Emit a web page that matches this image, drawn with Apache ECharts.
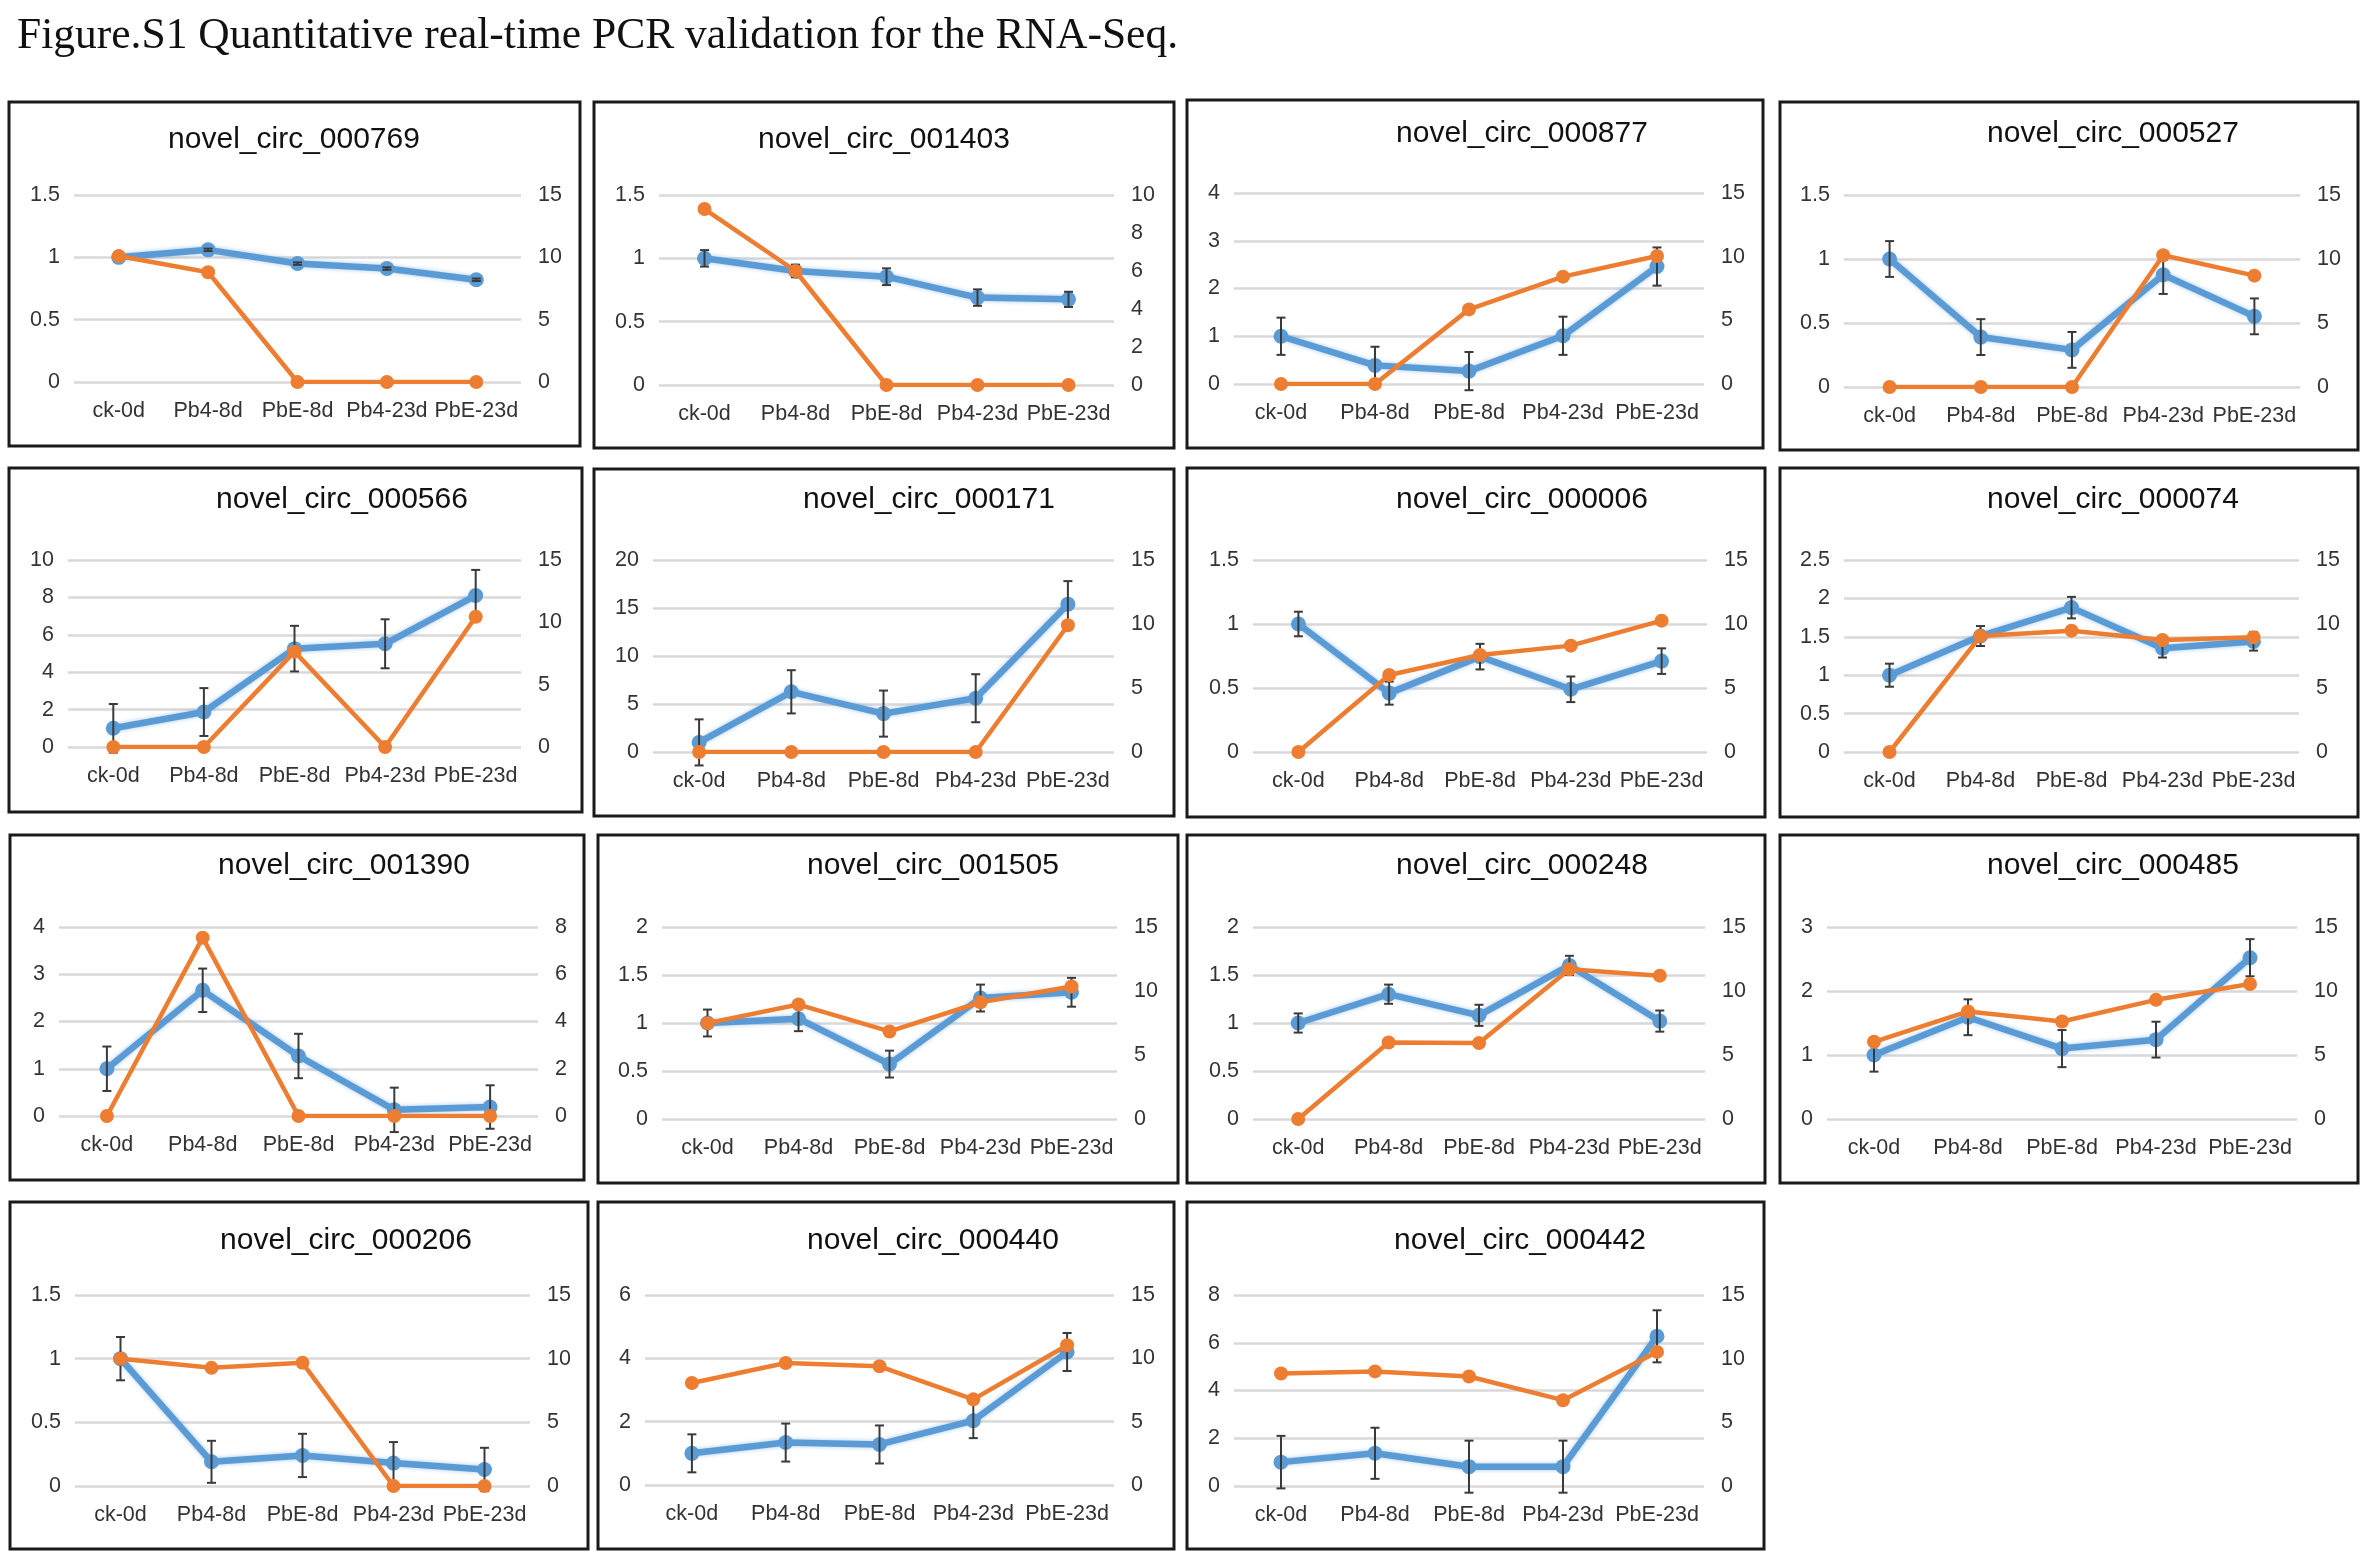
<!DOCTYPE html>
<html>
<head>
<meta charset="utf-8">
<script src="https://cdn.jsdelivr.net/npm/echarts@6/dist/echarts.min.js"></script>
<style>
html,body{margin:0;padding:0;background:#fff;}
#chart{width:2362px;height:1551px;}
</style>
</head>
<body>
<div id="chart"></div>
<script>
// ---------------- DATA ----------------
const categories = ['ck-0d', 'Pb4-8d', 'PbE-8d', 'Pb4-23d', 'PbE-23d'];
const figureTitle = 'Figure.S1 Quantitative real-time PCR validation for the RNA-Seq.';

// qPCR (blue, left axis), its error bars, and RNA-Seq (orange, right axis)
const qpcr_000769 = [1.00, 1.06, 0.95, 0.91, 0.82];
const err_000769  = [0.01, 0.01, 0.01, 0.01, 0.01];
const rna_000769  = [10.1, 8.8, 0, 0, 0];

const qpcr_001403 = [1.00, 0.90, 0.855, 0.69, 0.676];
const err_001403  = [0.065, 0.05, 0.066, 0.065, 0.06];
const rna_001403  = [9.26, 6.0, 0, 0, 0];

const qpcr_000877 = [1.00, 0.39, 0.27, 1.01, 2.46];
const err_000877  = [0.39, 0.39, 0.40, 0.40, 0.40];
const rna_000877  = [0, 0, 5.86, 8.43, 10.05];

const qpcr_000527 = [1.00, 0.39, 0.29, 0.877, 0.552];
const err_000527  = [0.14, 0.14, 0.14, 0.15, 0.14];
const rna_000527  = [0, 0, 0, 10.29, 8.7];

const qpcr_000566 = [1.00, 1.87, 5.26, 5.52, 8.1];
const err_000566  = [1.30, 1.28, 1.22, 1.31, 1.37];
const rna_000566  = [0, 0, 7.65, 0, 10.45];

const qpcr_000171 = [1.00, 6.27, 4.0, 5.6, 15.4];
const err_000171  = [2.4, 2.25, 2.4, 2.5, 2.4];
const rna_000171  = [0, 0, 0, 0, 9.9];

const qpcr_000006 = [1.00, 0.46, 0.745, 0.49, 0.71];
const err_000006  = [0.096, 0.09, 0.10, 0.10, 0.10];
const rna_000006  = [0, 6.02, 7.58, 8.31, 10.26];

const qpcr_000074 = [1.00, 1.51, 1.88, 1.35, 1.44];
const err_000074  = [0.15, 0.13, 0.14, 0.12, 0.12];
const rna_000074  = [0, 9.06, 9.48, 8.75, 8.96];

const qpcr_001390 = [1.00, 2.66, 1.27, 0.13, 0.19];
const err_001390  = [0.47, 0.46, 0.47, 0.47, 0.46];
const rna_001390  = [0, 7.55, 0, 0, 0];

const qpcr_001505 = [1.00, 1.045, 0.572, 1.26, 1.32];
const err_001505  = [0.14, 0.13, 0.14, 0.14, 0.15];
const rna_001505  = [7.49, 8.94, 6.84, 9.12, 10.35];

const qpcr_000248 = [1.00, 1.30, 1.08, 1.60, 1.02];
const err_000248  = [0.10, 0.10, 0.11, 0.10, 0.11];
const rna_000248  = [0, 5.98, 5.93, 11.7, 11.2];

const qpcr_000485 = [1.00, 1.59, 1.10, 1.24, 2.52];
const err_000485  = [0.26, 0.28, 0.29, 0.28, 0.29];
const rna_000485  = [6.03, 8.4, 7.62, 9.31, 10.55];

const qpcr_000206 = [1.00, 0.19, 0.24, 0.18, 0.13];
const err_000206  = [0.17, 0.165, 0.17, 0.165, 0.17];
const rna_000206  = [10.0, 9.28, 9.67, 0, 0];

const qpcr_000440 = [1.00, 1.34, 1.28, 2.03, 4.2];
const err_000440  = [0.60, 0.60, 0.60, 0.55, 0.60];
const rna_000440  = [8.05, 9.63, 9.37, 6.76, 11.03];

const qpcr_000442 = [1.00, 1.37, 0.81, 0.81, 6.27];
const err_000442  = [1.10, 1.07, 1.09, 1.09, 1.09];
const rna_000442  = [8.83, 9.0, 8.6, 6.74, 10.53];

const panelNames = ['novel_circ_000769','novel_circ_001403','novel_circ_000877','novel_circ_000527',
  'novel_circ_000566','novel_circ_000171','novel_circ_000006','novel_circ_000074',
  'novel_circ_001390','novel_circ_001505','novel_circ_000248','novel_circ_000485',
  'novel_circ_000206','novel_circ_000440','novel_circ_000442'];
const qpcrSeries = [qpcr_000769, qpcr_001403, qpcr_000877, qpcr_000527, qpcr_000566, qpcr_000171, qpcr_000006, qpcr_000074,
  qpcr_001390, qpcr_001505, qpcr_000248, qpcr_000485, qpcr_000206, qpcr_000440, qpcr_000442];
const errSeries = [err_000769, err_001403, err_000877, err_000527, err_000566, err_000171, err_000006, err_000074,
  err_001390, err_001505, err_000248, err_000485, err_000206, err_000440, err_000442];
const rnaSeries = [rna_000769, rna_001403, rna_000877, rna_000527, rna_000566, rna_000171, rna_000006, rna_000074,
  rna_001390, rna_001505, rna_000248, rna_000485, rna_000206, rna_000440, rna_000442];

// axis ticks
const leftMax      = [1.5, 1.5, 4, 1.5, 10, 20, 1.5, 2.5, 4, 2, 2, 3, 1.5, 6, 8];
const leftInterval = [0.5, 0.5, 1, 0.5, 2, 5, 0.5, 0.5, 1, 0.5, 0.5, 1, 0.5, 2, 2];
const rightMax      = [15, 10, 15, 15, 15, 15, 15, 15, 8, 15, 15, 15, 15, 15, 15];
const rightInterval = [5, 2, 5, 5, 5, 5, 5, 5, 2, 5, 5, 5, 5, 5, 5];

// ---------------- LAYOUT ----------------
// panel frames [x0, y0, x1, y1]
const frames = [
  [9,102,580,446],[594,102,1174,448],[1187,100,1763,448],[1780,102,2358,450],
  [9,468,582,812],[594,469,1174,816],[1187,468,1765,817],[1780,468,2358,817],
  [10,835,584,1180],[598,835,1178,1183],[1187,835,1765,1183],[1780,835,2358,1183],
  [10,1202,588,1549],[598,1202,1174,1549],[1187,1202,1764,1549]
];
// plot areas [x0, y0, x1, y1]
const plots = [
  [74,195,521,382],[659,195,1114,385],[1234,193,1704,384],[1844,195,2300,387],
  [68,560,521,747],[653,560,1114,752],[1253,560,1707,752],[1844,560,2299,752],
  [59,927,538,1116],[662,927,1117,1119],[1253,927,1705,1119],[1827,927,2297,1119],
  [75,1295,530,1486],[645,1295,1114,1485],[1234,1295,1704,1486]
];
// panel title centres [x, y]
const titlePos = [
  [294,142],[884,142],[1522,136],[2113,136],
  [342,502],[929,502],[1522,502],[2113,502],
  [344,868],[933,868],[1522,868],[2113,868],
  [346,1243],[933,1243],[1520,1243]
];

const BLUE = '#5B9BD5', ORANGE = '#ED7D31';
const LABEL_FONT = 'Liberation Sans';
const LABEL_COLOR = '#333333';

const grids = [], xAxes = [], yAxes = [], series = [], titles = [], graphics = [];

graphics.push({
  type: 'text', left: 17, top: 15, z: 100,
  style: { text: figureTitle, font: '43.5px "Liberation Serif", "Times New Roman", serif', fill: '#111' }
});

for (let i = 0; i < 15; i++) {
  const p = plots[i], f = frames[i];
  grids.push({ left: p[0], top: p[1], width: p[2] - p[0], height: p[3] - p[1], containLabel: false });
  graphics.push({
    type: 'rect', z: 0, silent: true,
    shape: { x: f[0], y: f[1], width: f[2] - f[0], height: f[3] - f[1] },
    style: { fill: 'none', stroke: '#1a1a1a', lineWidth: 3 }
  });
  titles.push({
    text: panelNames[i], left: titlePos[i][0], top: titlePos[i][1] - 17, textAlign: 'center', padding: 0,
    textStyle: { fontFamily: LABEL_FONT, fontSize: 30, fontWeight: 'normal', color: '#111' }
  });
  xAxes.push({
    gridIndex: i, type: 'category', data: categories, boundaryGap: true,
    axisLine: { show: false }, axisTick: { show: false },
    axisLabel: { margin: 18, fontSize: 21.5, fontFamily: LABEL_FONT, color: LABEL_COLOR, interval: 0 }
  });
  yAxes.push({
    gridIndex: i, type: 'value', position: 'left', min: 0, max: leftMax[i], interval: leftInterval[i],
    axisLine: { show: false }, axisTick: { show: false },
    splitLine: { show: true, lineStyle: { color: '#D9D9D9', width: 2.5 } },
    axisLabel: { margin: 14, fontSize: 21.5, fontFamily: LABEL_FONT, color: LABEL_COLOR }
  });
  yAxes.push({
    gridIndex: i, type: 'value', position: 'right', min: 0, max: rightMax[i], interval: rightInterval[i],
    axisLine: { show: false }, axisTick: { show: false }, splitLine: { show: false },
    axisLabel: { margin: 17, fontSize: 21.5, fontFamily: LABEL_FONT, color: LABEL_COLOR }
  });

  series.push({
    type: 'line', xAxisIndex: i, yAxisIndex: 2 * i, data: qpcrSeries[i],
    symbol: 'circle', symbolSize: 15, z: 2,
    lineStyle: { color: BLUE, width: 6.5, shadowColor: 'rgba(91,155,213,0.55)', shadowBlur: 4 },
    itemStyle: { color: BLUE }, animation: false
  });
  series.push({
    type: 'custom', xAxisIndex: i, yAxisIndex: 2 * i, z: 3, animation: false,
    data: qpcrSeries[i].map((v, k) => [k, v - errSeries[i][k], v + errSeries[i][k]]),
    encode: { x: 0, y: [1, 2] },
    renderItem: function (params, api) {
      const x = api.value(0);
      const lo = api.coord([x, api.value(1)]);
      const hi = api.coord([x, api.value(2)]);
      const w = 4.5;
      const st = { stroke: '#3a3a3a', lineWidth: 2 };
      return {
        type: 'group', children: [
          { type: 'line', shape: { x1: lo[0], y1: lo[1], x2: hi[0], y2: hi[1] }, style: st },
          { type: 'line', shape: { x1: hi[0] - w, y1: hi[1], x2: hi[0] + w, y2: hi[1] }, style: st },
          { type: 'line', shape: { x1: lo[0] - w, y1: lo[1], x2: lo[0] + w, y2: lo[1] }, style: st }
        ]
      };
    }
  });
  series.push({
    type: 'line', xAxisIndex: i, yAxisIndex: 2 * i + 1, data: rnaSeries[i],
    symbol: 'circle', symbolSize: 14, z: 4,
    lineStyle: { color: ORANGE, width: 4.5 },
    itemStyle: { color: ORANGE }, animation: false
  });
}

const chart = echarts.init(document.getElementById('chart'));
chart.setOption({
  backgroundColor: '#fff',
  animation: false,
  title: titles,
  grid: grids,
  xAxis: xAxes,
  yAxis: yAxes,
  series: series,
  graphic: graphics
});
</script>
</body>
</html>
